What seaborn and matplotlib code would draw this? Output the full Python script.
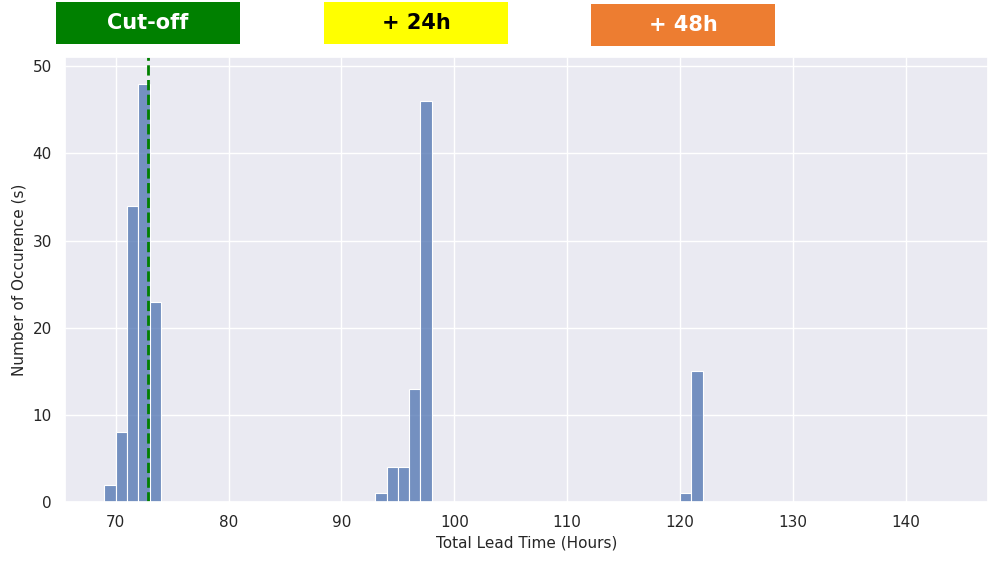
import numpy as np
import pandas as pd
import seaborn as sns
import matplotlib.pyplot as plt

# lead time bin (left edge, hours) and counts
lead_hours = [69, 70, 71, 72, 73, 93, 94, 95, 96, 97, 120, 121]
counts = [2, 8, 34, 48, 23, 1, 4, 4, 13, 46, 1, 15]
cutoff = 72.9
labels = ["Cut-off", "+ 24h", "+ 48h"]
label_colors = ["#008000", "#ffff00", "#ed7d31"]
label_text_colors = ["white", "black", "white"]

df = pd.DataFrame({"hours": np.array(lead_hours) + 0.5, "count": counts})

sns.set_theme(style="darkgrid")
fig = plt.figure(figsize=(10, 5.63), dpi=100)
ax = fig.add_axes([0.065, 0.108, 0.923, 0.79])

sns.histplot(data=df, x="hours", weights="count", binwidth=1, binrange=(69, 122),
             color="#4c72b0", alpha=0.75, edgecolor="white", linewidth=0.8, ax=ax)
ax.axvline(cutoff, color="green", linestyle="--", linewidth=2)

ax.set_xlim(65.5, 147.3)
ax.set_ylim(0, 51)
ax.set_xticks(range(70, 141, 10))
ax.set_xlabel("Total Lead Time (Hours)", fontsize=11)
ax.set_ylabel("Number of Occurence (s)", fontsize=11)
ax.tick_params(labelsize=11)

# header boxes
boxes = [(0.056, 0.922), (0.324, 0.922), (0.591, 0.918)]
for (x0, y0), lab, col, tc in zip(boxes, labels, label_colors, label_text_colors):
    fig.patches.append(plt.Rectangle((x0, y0), 0.184, 0.075, transform=fig.transFigure,
                                     facecolor=col, edgecolor="none"))
    fig.text(x0 + 0.092, y0 + 0.0375, lab, ha="center", va="center",
             fontsize=15, fontweight="bold", color=tc)

fig.savefig("out.png", dpi=100)
